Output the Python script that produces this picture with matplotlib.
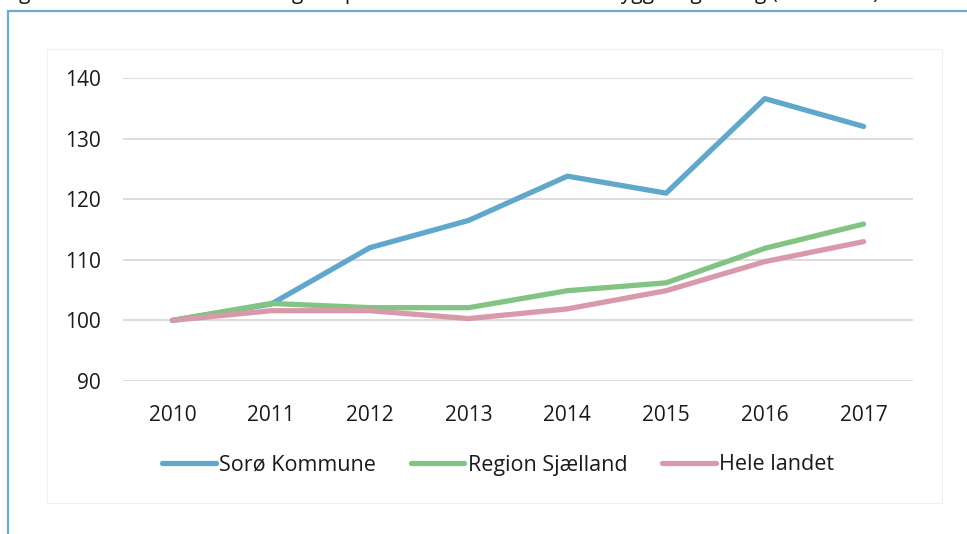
import matplotlib
matplotlib.use("Agg")
import matplotlib.pyplot as plt
from matplotlib.patches import Rectangle

# data (index 2010 = 100)
years = ["2010", "2011", "2012", "2013", "2014", "2015", "2016", "2017"]
soroe = [100, 102.7, 112.0, 116.5, 123.8, 121.0, 136.6, 132.0]
region = [100, 102.8, 102.1, 102.1, 104.9, 106.2, 111.9, 115.9]
landet = [100, 101.6, 101.6, 100.3, 101.9, 104.9, 109.7, 113.0]
series_names = ["Sorø Kommune", "Region Sjælland", "Hele landet"]
yticks = [90, 100, 110, 120, 130, 140]

colors = ["#5fa7cb", "#82c483", "#d89aaa"]
txt = "#1a1a1a"

plt.rcParams['font.family'] = ['Open Sans', 'DejaVu Sans']

W, H = 967, 534
fig = plt.figure(figsize=(W / 100, H / 100), dpi=100)

def px(x, y):
    # pixel coords (from top-left) -> figure fraction
    return x / W, 1 - y / H

# cut-off caption at the very top
fig.text(3 / W, 1 + 1.5 / H,
         "Figur 8: Antal fuldtidsbeskæftigede på virksomheder inden for bygge- og anlæg (2010=100)",
         fontsize=15, color=txt, ha='left', va='baseline')

# outer light blue frame (runs off right and bottom)
fig.patches.append(Rectangle(px(8, 600), 2, (600 - 11) / H, transform=fig.transFigure,
                             fill=False, edgecolor="#6aabcf", lw=1.6, zorder=-2))
# inner chart panel
x0, y0 = px(47, 503)
fig.patches.append(Rectangle((x0, y0), (942 - 47) / W, (503 - 49) / H, transform=fig.transFigure,
                             facecolor="white", edgecolor="#f0f0f0", lw=0.8, zorder=-1))

l, b = px(123, 381)
ax = fig.add_axes([l, b, (913 - 123) / W, (381 - 78) / H])
ax.set_facecolor("none")

xs = range(len(years))
for vals, c, name in zip([soroe, region, landet], colors, series_names):
    ax.plot(xs, vals, color=c, lw=3.8, solid_capstyle='round', solid_joinstyle='round',
            label=name, clip_on=False)

ax.set_xlim(-0.5, len(years) - 0.5)
ax.set_ylim(90, 140)
ax.set_yticks(yticks)
ax.set_xticks(list(xs))
ax.set_xticklabels(years)
ax.grid(axis='y', color="#d9d9d9", lw=1.3)
ax.set_axisbelow(True)
for s in ax.spines.values():
    s.set_visible(False)
ax.tick_params(length=0, labelsize=15, labelcolor=txt)
ax.tick_params(axis='y', pad=16)
ax.tick_params(axis='x', pad=17)

leg = fig.legend(loc='center', bbox_to_anchor=(498 / W, 1 - 465 / H), ncol=3, frameon=False,
                 fontsize=15.5, handlelength=2.5, handletextpad=0.15, columnspacing=1.6,
                 borderaxespad=0, labelcolor=txt)

fig.savefig("out.png", dpi=100)
